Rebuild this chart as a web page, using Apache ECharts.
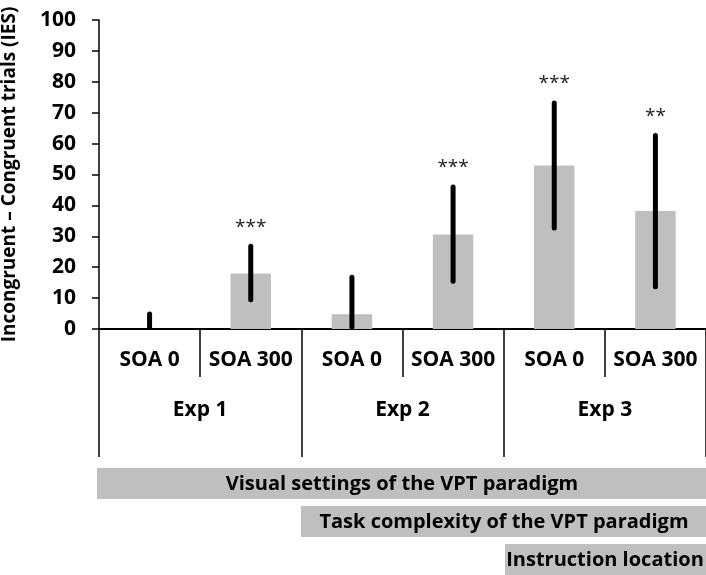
<!DOCTYPE html>
<html>
<head>
<meta charset="utf-8">
<script src="https://cdn.jsdelivr.net/npm/echarts@6/dist/echarts.min.js"></script>
<style>
html,body{margin:0;padding:0;background:#fff;}
#chart{width:706px;height:575px;}
</style>
</head>
<body>
<div id="chart"></div>
<script>
// ---- data ----
var soaLabels = ['SOA 0', 'SOA 300', 'SOA 0', 'SOA 300', 'SOA 0', 'SOA 300'];
var expLabels = ['Exp 1', 'Exp 2', 'Exp 3'];
var means = [0, 18.0, 4.8, 30.6, 52.9, 38.2];
var errLow = [0, 8.8, 0, 14.8, 32.0, 13.0];
var errHigh = [5.5, 27.4, 17.4, 46.6, 73.8, 63.3];
var sig = ['', '***', '', '***', '***', '**'];
var yTicks = [0, 10, 20, 30, 40, 50, 60, 70, 80, 90, 100];
var bandLabels = ['Visual settings of the VPT paradigm', 'Task complexity of the VPT paradigm', 'Instruction location'];
var yTitle = 'Incongruent \u2013 Congruent trials (IES)';

var FONT = '"Open Sans", "Noto Sans", sans-serif';
var chart = echarts.init(document.getElementById('chart'));

var errData = means.map(function (m, i) { return [i, errLow[i], errHigh[i]]; });

var option = {
  backgroundColor: '#fff',
  animation: false,
  grid: { left: 99, right: 0, top: 20, bottom: 246, containLabel: false, outerBoundsMode: 'none' },
  yAxis: {
    type: 'value',
    min: yTicks[0], max: yTicks[yTicks.length - 1], interval: 10,
    name: yTitle,
    nameLocation: 'middle',
    nameRotate: 90,
    nameGap: 80,
    nameTextStyle: { fontFamily: FONT, fontWeight: 'bold', fontSize: 19, color: '#000' },
    axisLine: { show: true, lineStyle: { color: '#000', width: 1.5 } },
    axisTick: { show: true, length: 7, lineStyle: { color: '#000', width: 1.5 } },
    axisLabel: { margin: 23, fontFamily: FONT, fontWeight: 'bold', fontSize: 21, color: '#000' },
    splitLine: { show: false }
  },
  xAxis: [
    {
      type: 'category', position: 'bottom', data: soaLabels,
      axisLine: { show: true, lineStyle: { color: '#000', width: 2 } },
      axisTick: { show: true, length: 48, lineStyle: { color: '#000', width: 1.5 } },
      axisLabel: { margin: 21, lineHeight: 21, fontFamily: FONT, fontWeight: 'bold', fontSize: 21, color: '#000', interval: 0 }
    },
    {
      type: 'category', position: 'bottom', data: expLabels,
      axisLine: { show: true, lineStyle: { color: '#000', width: 2 } },
      axisTick: { show: true, length: 128, lineStyle: { color: '#000', width: 1.5 } },
      axisLabel: { margin: 71, lineHeight: 21, fontFamily: FONT, fontWeight: 'bold', fontSize: 21, color: '#000', interval: 0 }
    }
  ],
  series: [
    {
      type: 'bar', xAxisIndex: 0, data: means, barWidth: '40%',
      itemStyle: { color: '#bfbfbf' }
    },
    {
      type: 'custom', xAxisIndex: 0, data: errData, z: 5,
      renderItem: function (params, api) {
        var x = api.value(0);
        var lo = api.coord([x, api.value(1)]);
        var hi = api.coord([x, api.value(2)]);
        var s = sig[params.dataIndex];
        var children = [{
          type: 'line',
          shape: { x1: lo[0], y1: lo[1] - 2, x2: hi[0], y2: hi[1] + 2 },
          style: { stroke: '#000', lineWidth: 5, lineCap: 'round' }
        }];
        if (s) {
          children.push({
            type: 'text',
            style: { text: s, x: hi[0], y: hi[1] - 17, align: 'center', verticalAlign: 'middle',
              font: '19px ' + FONT, fill: '#222' }
          });
        }
        return { type: 'group', children: children };
      }
    }
  ],
  graphic: [
    { type: 'rect', shape: { x: 97, y: 468, width: 612, height: 31 }, style: { fill: '#bfbfbf' }, silent: true },
    { type: 'rect', shape: { x: 301, y: 506, width: 408, height: 31 }, style: { fill: '#bfbfbf' }, silent: true },
    { type: 'rect', shape: { x: 505, y: 544, width: 204, height: 31 }, style: { fill: '#bfbfbf' }, silent: true },
    { type: 'text', x: 402, y: 484, style: { text: bandLabels[0], align: 'center', verticalAlign: 'middle', font: 'bold 20px ' + FONT, fill: '#000' } },
    { type: 'text', x: 504, y: 522, style: { text: bandLabels[1], align: 'center', verticalAlign: 'middle', font: 'bold 20px ' + FONT, fill: '#000' } },
    { type: 'text', x: 605, y: 560, style: { text: bandLabels[2], align: 'center', verticalAlign: 'middle', font: 'bold 20px ' + FONT, fill: '#000' } }
  ]
};
chart.setOption(option);
</script>
</body>
</html>
